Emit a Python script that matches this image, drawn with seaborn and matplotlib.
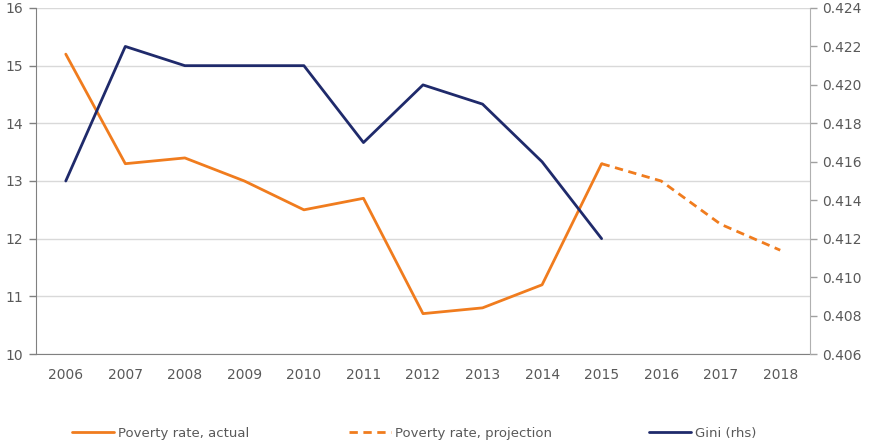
import matplotlib
matplotlib.use("Agg")
import matplotlib.pyplot as plt
import seaborn as sns
import pandas as pd
import numpy as np

years = ["2006", "2007", "2008", "2009", "2010", "2011", "2012",
         "2013", "2014", "2015", "2016", "2017", "2018"]
poverty_actual = [15.2, 13.3, 13.4, 13.0, 12.5, 12.7, 10.7, 10.8, 11.2, 13.3]
proj_years = ["2015", "2016", "2017", "2018"]
poverty_proj = [13.3, 13.0, 12.25, 11.8]
gini_years = ["2006", "2007", "2008", "2009", "2010", "2011", "2012",
              "2013", "2014", "2015"]
gini = [0.415, 0.422, 0.421, 0.421, 0.421, 0.417, 0.420, 0.419, 0.416, 0.412]

orange = "#F07C1E"
navy = "#1F2A6B"
grey = "#595959"

sns.set_style("white")
plt.rcParams['font.family'] = ['DejaVu Sans']

fig = plt.figure(figsize=(8.69, 4.44), dpi=100)
ax = fig.add_axes([36/869, 1-354/444, (810-36)/869, (354-8)/444])
ax2 = ax.twinx()

pos = {y: i for i, y in enumerate(years)}
df_a = pd.DataFrame({"x": [pos[y] for y in years[:len(poverty_actual)]], "v": poverty_actual})
df_p = pd.DataFrame({"x": [pos[y] for y in proj_years], "v": poverty_proj})
df_g = pd.DataFrame({"x": [pos[y] for y in gini_years], "v": gini})

sns.lineplot(data=df_a, x="x", y="v", ax=ax, color=orange, lw=2, label="Poverty rate, actual", legend=False)
sns.lineplot(data=df_p, x="x", y="v", ax=ax, color=orange, lw=2, ls=(0, (3, 2)), label="Poverty rate, projection", legend=False)
sns.lineplot(data=df_g, x="x", y="v", ax=ax2, color=navy, lw=2, label="Gini (rhs)", legend=False)

ax.set_xlim(-0.5, len(years) - 0.5)
ax.set_ylim(10, 16)
ax.set_yticks(range(10, 17))
ax2.set_ylim(0.406, 0.424)
ax2.set_yticks(np.arange(0.406, 0.4241, 0.002))
ax2.set_yticklabels([f"{v:.3f}" for v in np.arange(0.406, 0.4241, 0.002)])

ax.set_xticks(range(len(years)))
ax.set_xticklabels(years)
ax.set_xticks(np.arange(-0.5, len(years)), minor=True)
ax.tick_params(axis="x", which="major", length=0, pad=10, labelsize=10, labelcolor=grey)
ax.tick_params(axis="x", which="minor", length=5, width=1, color="#808080", direction="out")
ax.tick_params(axis="y", length=5, width=1, color="#808080", direction="out", labelsize=10, labelcolor=grey, pad=4)
ax2.tick_params(axis="y", length=5, width=1, color="#a0a0a0", direction="out", labelsize=10, labelcolor=grey, pad=4)

ax.grid(axis="y", color="#d9d9d9", lw=1)
ax.set_axisbelow(True)
ax.set_xlabel("")
ax.set_ylabel("")
ax2.set_ylabel("")

for s in ["top"]:
    ax.spines[s].set_visible(False)
    ax2.spines[s].set_visible(False)
ax.spines["right"].set_visible(False)
ax2.spines["left"].set_visible(False)
ax.spines["left"].set_color("#808080")
ax.spines["bottom"].set_color("#808080")
ax2.spines["bottom"].set_visible(False)
ax2.spines["right"].set_color("#b0b0b0")

h1, l1 = ax.get_legend_handles_labels()
h2, l2 = ax2.get_legend_handles_labels()
handles = h1 + h2
labels = l1 + l2
xs = [72/869, 349/869, 649/869]
for h, l, x in zip(handles, labels, xs):
    fig.legend([h], [l], loc="center left", bbox_to_anchor=(x, 1-433/444),
               frameon=False, handlelength=3.2, fontsize=9.5, labelcolor=grey,
               handletextpad=0.3, borderpad=0, borderaxespad=0)

fig.savefig("out.png", dpi=100)
